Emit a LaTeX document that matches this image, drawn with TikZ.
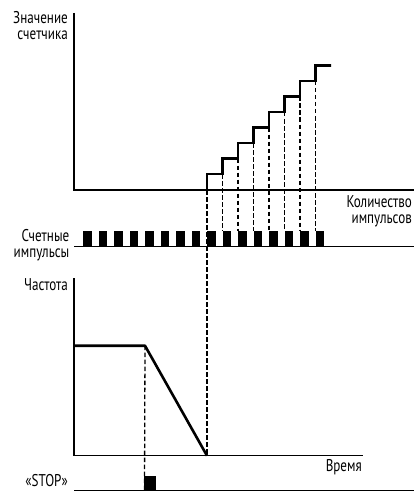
\documentclass[tikz,border=0pt]{standalone}
\usepackage{fontspec}
\setmainfont[FakeStretch=0.77]{PT Sans}
\begin{document}
\begin{tikzpicture}[x=1pt,y=-1pt,
  axis/.style={line width=1.1pt},
  thick line/.style={line width=2.6pt,line join=miter},
  dash line/.style={line width=1.3pt,dash pattern=on 4.5pt off 2.5pt},
  lbl/.style={font=\fontsize{17}{19}\selectfont,inner sep=0pt,anchor=base east,align=right},
  pulse/.style={fill=black,draw=none}]
\useasboundingbox (0,0) rectangle (414,492);
% top graph axes
\coordinate (tA) at (74,13);
\coordinate (tO) at (74,190);
\coordinate (tE) at (414,190);
\draw[axis] (tA) -- (tO) -- (tE);
% pulse baseline
\coordinate (pS) at (74,246.7);
\coordinate (pE) at (414,246.7);
\draw[axis] (pS) -- (pE);
% bottom graph axes
\coordinate (bA) at (74,278);
\coordinate (bO) at (74,455.7);
\coordinate (bE) at (362.7,455.7);
\draw[axis] (bA) -- (bO) -- (bE);
% stop baseline
\coordinate (sS) at (74,490.7);
\coordinate (sE) at (414,490.7);
\draw[axis] (sS) -- (sE);
% pulses
\foreach \k in {0,...,15}{
  \fill[pulse] ({83+15.5*\k},231) rectangle ({91.5+15.5*\k},246.7);
}
% dashed lines
\coordinate (f0) at (207,455.7);
\draw[dash line] (207,190) -- (f0);
\foreach \k in {1,...,7}{
  \draw[dash line] ({207+15.5*\k},{174-15.5*(\k-1)}) -- ({207+15.5*\k},231);
}
% staircase
\draw[thick line] (207,190)
  \foreach \k in {0,...,7}{ -- ({207+15.5*\k},{174-15.5*\k}) -- ({222.5+15.5*\k},{174-15.5*\k}) }
  -- (330.7,65.5);
% frequency curve
\coordinate (fS) at (74,345.7);
\coordinate (fK) at (145,345.7);
\draw[thick line,line join=round] (fS) -- (fK) -- (f0);
% stop dashed + pulse
\coordinate (sD) at (144.5,490.7);
\draw[dash line] (fK) -- (sD);
\fill[pulse] (144,476) rectangle (155.7,490.7);
% labels
\node[lbl] (l1) at (68,24) {Значение};
\node[lbl] (l2) at (68,40) {счетчика};
\node[lbl] (l3) at (412,207) {Количество};
\node[lbl] (l4) at (412,223) {импульсов};
\node[lbl] (l5) at (69.5,241) {Счетные};
\node[lbl] (l6) at (69.5,257) {импульсы};
\node[lbl] (l7) at (68,290) {Частота};
\node[lbl] (l8) at (362,471) {Время};
\node[lbl] (l9) at (68,486.5) {«STOP»};
\end{tikzpicture}
\end{document}
